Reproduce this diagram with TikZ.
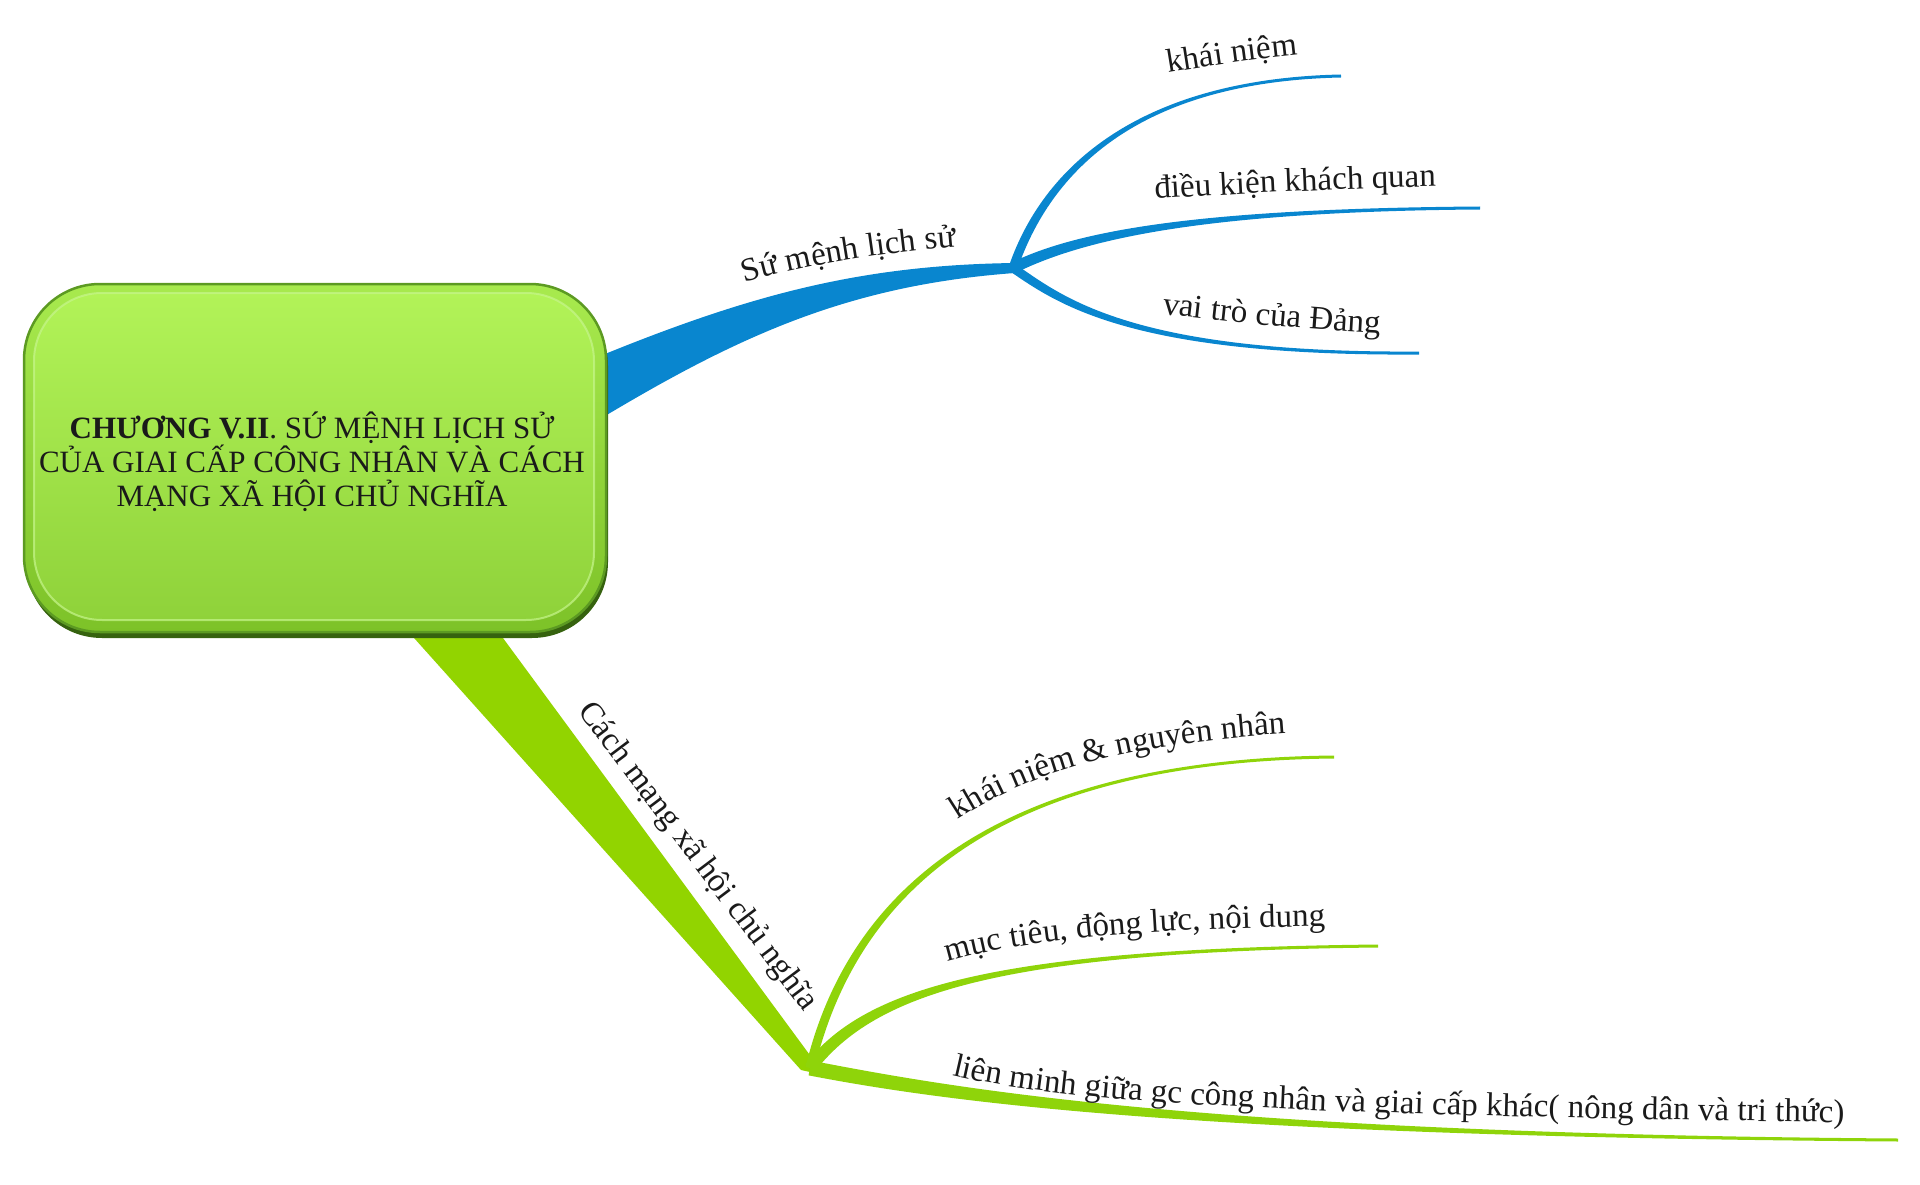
\documentclass[tikz,border=0pt]{standalone}
\usepackage{fontspec}
\setmainfont{Liberation Serif}
\usetikzlibrary{calc,decorations.text}

\definecolor{mmblue}{HTML}{0986CF}
\definecolor{mmgreen}{HTML}{8FD40A}
\definecolor{bandgreen}{HTML}{92D400}
\definecolor{txt}{HTML}{1A1A1A}
\definecolor{boxshadow}{HTML}{36620F}
\definecolor{boxrim}{HTML}{5C9A22}
\definecolor{outertop}{HTML}{A8EA4E}
\definecolor{outerbot}{HTML}{7DC228}
\definecolor{facetop}{HTML}{B2F358}
\definecolor{facemid}{HTML}{A2E448}
\definecolor{facebot}{HTML}{8FD23A}
\definecolor{facehi}{HTML}{C6F58C}

\newcommand{\lblfont}{\fontsize{33}{36}\selectfont}
% tapered branch: colour, P0, P1, P2, P3, half width start, half width end
\newcommand{\taperfill}[7]{%
  \fill[#1] ($#2!#6!90:#3$) .. controls ($#3!#6!-90:#2$) and ($#4!#7!90:#5$) ..
    ($#5!#7!-90:#4$) -- ($#5!#7!90:#4$) .. controls ($#4!#7!-90:#5$) and ($#3!#6!90:#2$) ..
    ($#2!#6!-90:#3$) -- cycle;}

\tikzset{
  lbl/.style={decorate, decoration={text along path, text align=left, text color=txt}},
  roottext/.style={font=\fontsize{31}{34}\selectfont, align=center, inner sep=0pt, text=txt},
}

\begin{document}
\begin{tikzpicture}[x=1pt,y=-1pt]
\useasboundingbox (0,0) rectangle (1920,1185);

% named points
\coordinate (j1) at (1013,268);
\coordinate (j2) at (810,1068);
\coordinate (b1end) at (1341,76);
\coordinate (b2end) at (1480,208);
\coordinate (b3end) at (1419,353);
\coordinate (g1end) at (1334,757);
\coordinate (g2end) at (1378,946);
\coordinate (g3end) at (1898,1140);

% main blue band
\fill[mmblue] (560,372) -- (600,356) .. controls (750,295) and (860,265) .. (1015,263)
  -- (1015,273) .. controls (850,285) and (740,335) .. (600,419) -- (560,442) -- cycle;

% main green band
\fill[bandgreen] (380,600) -- (475,600) -- (812,1058) -- (810,1072) -- (801,1070) -- cycle;

% blue sub-branches
\taperfill{mmblue}{(j1)}{(1050,160)}{(1150,80)}{(b1end)}{4.5pt}{1.5pt}
\taperfill{mmblue}{(j1)}{(1080,235)}{(1200,210)}{(b2end)}{5.5pt}{1.5pt}
\taperfill{mmblue}{(j1)}{(1060,300)}{(1130,355)}{(b3end)}{4.5pt}{1.5pt}

% green sub-branches
\taperfill{mmgreen}{(j2)}{(860,860)}{(1040,760)}{(g1end)}{4.5pt}{1.5pt}
\taperfill{mmgreen}{(j2)}{(870,990)}{(1000,950)}{(g2end)}{6pt}{1.5pt}
\taperfill{mmgreen}{(j2)}{(950,1095)}{(1200,1135)}{(g3end)}{7.5pt}{1.5pt}

% central box
\fill[boxshadow, rounded corners=76pt] (26,290) rectangle (608,638);
\shade[top color=outertop, bottom color=outerbot, rounded corners=76pt] (24,284) rectangle (606,632);
\draw[boxrim, line width=2.5pt, rounded corners=76pt] (24,284) rectangle (606,632);
\shade[top color=facetop, middle color=facemid, bottom color=facebot, rounded corners=68pt] (34,293) rectangle (594,620);
\draw[facehi, line width=2pt, opacity=0.7, rounded corners=68pt] (34,293) rectangle (594,620);
\node[roottext] (root) at (312,462) {\textbf{CHƯƠNG V.II}. SỨ MỆNH LỊCH SỬ\\CỦA GIAI CẤP CÔNG NHÂN VÀ CÁCH\\MẠNG XÃ HỘI CHỦ NGHĨA};

% branch labels
\path[lbl, decoration={text={|\lblfont|Sứ mệnh lịch sử}}]
  (745,283) .. controls (800,266) and (880,252) .. (975,245);
\path[lbl, decoration={text={|\lblfont|khái niệm}}]
  (1168,73) .. controls (1210,66) and (1260,58) .. (1330,52);
\path[lbl, decoration={text={|\lblfont|điều kiện khách quan}}]
  (1155,199) .. controls (1250,193) and (1350,188) .. (1460,186);
\path[lbl, decoration={text={|\lblfont|vai trò của Đảng}}]
  (1162,314) .. controls (1230,322) and (1300,330) .. (1400,334);

\node[font=\lblfont, text=txt, rotate=-53, inner sep=0pt] (cm) at (697,857) {Cách mạng xã hội chủ nghĩa};

\path[lbl, decoration={text={|\lblfont|khái niệm {\&} nguyên nhân}}]
  (958,820) .. controls (1030,772) and (1130,742) .. (1310,732);
\path[lbl, decoration={text={|\lblfont|mục tiêu, động lực, nội dung}}]
  (948,962) .. controls (1030,938) and (1150,928) .. (1360,926);
\path[lbl, decoration={text={|\lblfont|liên minh giữa gc công nhân và giai cấp khác( nông dân và tri thức)}}]
  (952,1075) .. controls (1050,1098) and (1200,1115) .. (1900,1123);
\end{tikzpicture}
\end{document}
